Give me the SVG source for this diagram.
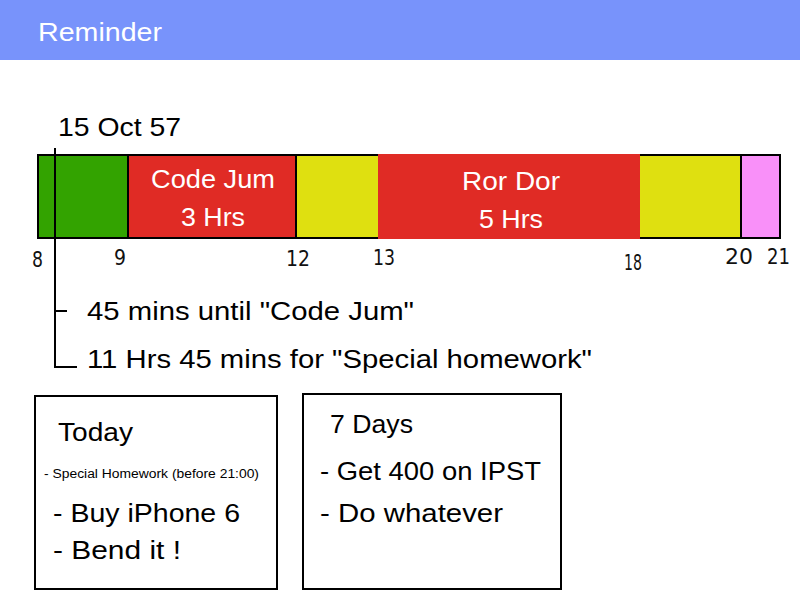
<svg xmlns="http://www.w3.org/2000/svg" width="800" height="600" viewBox="0 0 800 600">
<style>
text{font-family:"Liberation Sans","Noto Sans",sans-serif;}
.t{font-size:25px;fill:#000;}
.w{font-size:25px;fill:#fff;}
.s{font-size:12px;fill:#000;}
.h{font-size:21px;fill:#111;font-family:"DejaVu Sans","Liberation Sans",sans-serif;}
.box{fill:#fff;stroke:#000;stroke-width:2;}
.ln{stroke:#000;stroke-width:2;fill:none;}
</style>
<rect x="0" y="0" width="800" height="600" fill="#fff"/>
<g id="header">
<rect x="0" y="0" width="800" height="60" fill="#7893FB"/>
<text class="w" x="38" y="41" textLength="124" lengthAdjust="spacingAndGlyphs">Reminder</text>
</g>
<g id="date"><text class="t" x="58" y="136" textLength="123" lengthAdjust="spacingAndGlyphs">15 Oct 57</text></g>
<g id="timeline">
<rect x="38" y="155" width="90" height="83" fill="#33A300"/>
<rect x="128" y="155" width="168" height="83" fill="#E02B25"/>
<rect x="296" y="155" width="82" height="83" fill="#DFE010"/>
<rect x="378" y="155" width="262" height="83" fill="#E02B25"/>
<rect x="640" y="155" width="101" height="83" fill="#DFE010"/>
<rect x="741" y="155" width="39" height="83" fill="#F990F9"/>
<rect x="38" y="155" width="742" height="83" fill="none" stroke="#000" stroke-width="2"/>
<line class="ln" x1="128" y1="155" x2="128" y2="238"/>
<line class="ln" x1="296" y1="155" x2="296" y2="238"/>
<line class="ln" x1="741" y1="155" x2="741" y2="238"/>
<rect x="378" y="154" width="262" height="85" fill="#E02B25"/>
<text class="w" x="151" y="188" textLength="124" lengthAdjust="spacingAndGlyphs">Code Jum</text>
<text class="w" x="181" y="226" textLength="64" lengthAdjust="spacingAndGlyphs">3 Hrs</text>
<text class="w" x="462" y="190" textLength="98" lengthAdjust="spacingAndGlyphs">Ror Dor</text>
<text class="w" x="479" y="228" textLength="64" lengthAdjust="spacingAndGlyphs">5 Hrs</text>
</g>
<g id="ticks">
<text class="h" x="32" y="267" textLength="11" lengthAdjust="spacingAndGlyphs">8</text>
<text class="h" x="114" y="265" textLength="12" lengthAdjust="spacingAndGlyphs">9</text>
<text class="h" x="286" y="266" textLength="24" lengthAdjust="spacingAndGlyphs">12</text>
<text class="h" x="373" y="265" textLength="22" lengthAdjust="spacingAndGlyphs">13</text>
<text class="h" x="624" y="270" textLength="18" lengthAdjust="spacingAndGlyphs">18</text>
<text class="h" x="725" y="264" textLength="28" lengthAdjust="spacingAndGlyphs">20</text>
<text class="h" x="767" y="264" textLength="23" lengthAdjust="spacingAndGlyphs">21</text>
</g>
<g id="connectors">
<polyline class="ln" points="55,148 55,367 77,367"/>
<line class="ln" x1="55" y1="311" x2="67" y2="311"/>
</g>
<g id="status">
<text class="t" x="87" y="320" textLength="327" lengthAdjust="spacingAndGlyphs">45 mins until "Code Jum"</text>
<text class="t" x="87" y="368" textLength="505" lengthAdjust="spacingAndGlyphs">11 Hrs 45 mins for "Special homework"</text>
</g>
<g id="today">
<rect class="box" x="35" y="396" width="242" height="193"/>
<text class="t" x="58" y="441" textLength="75" lengthAdjust="spacingAndGlyphs">Today</text>
<text class="s" x="44" y="478" textLength="215" lengthAdjust="spacingAndGlyphs">- Special Homework (before 21:00)</text>
<text class="t" x="53" y="522" textLength="187" lengthAdjust="spacingAndGlyphs">- Buy iPhone 6</text>
<text class="t" x="53" y="559" textLength="128" lengthAdjust="spacingAndGlyphs">- Bend it !</text>
</g>
<g id="week">
<rect class="box" x="303" y="394" width="258" height="195"/>
<text class="t" x="330" y="433" textLength="83" lengthAdjust="spacingAndGlyphs">7 Days</text>
<text class="t" x="320" y="480" textLength="221" lengthAdjust="spacingAndGlyphs">- Get 400 on IPST</text>
<text class="t" x="320" y="522" textLength="183" lengthAdjust="spacingAndGlyphs">- Do whatever</text>
</g>
</svg>
